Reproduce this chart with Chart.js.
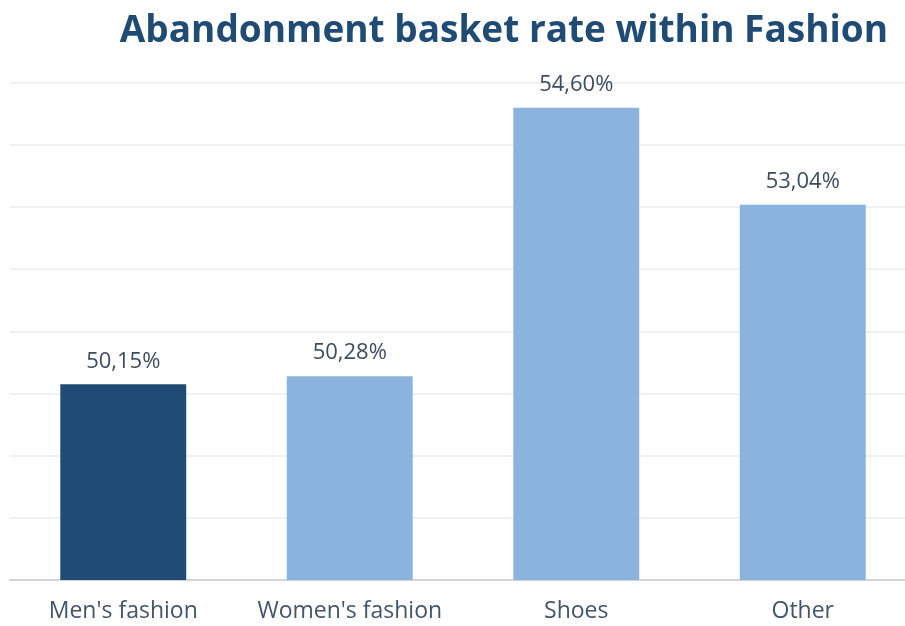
<!DOCTYPE html>
<html>
<head>
<meta charset="utf-8">
<script src="https://cdn.jsdelivr.net/npm/chart.js@4.4.1/dist/chart.umd.min.js"></script>
<style>
  html, body { margin: 0; padding: 0; background: #fff; overflow: hidden; }
  #wrap { position: relative; width: 920px; height: 626px; }
</style>
</head>
<body>
<div id="wrap"><canvas id="fashionChart" width="920" height="626"></canvas></div>
<script>
'use strict';

var chartTitle = 'Abandonment basket rate within Fashion';
var categories = ["Men's fashion", "Women's fashion", 'Shoes', 'Other'];
var abandonRate = [50.15, 50.28, 54.60, 53.04];
var barColors = ['#1f4b74', '#8ab4de', '#8ab4de', '#8ab4de'];
var axisMin = 47;
var axisMax = 55;

function pct(v) {
    return v.toFixed(2).replace('.', ',') + '%';
}

// heading, right-aligned a bit inside the plot area
var headingPlugin = {
    id: 'heading',
    afterDraw: function (chart) {
        var ctx = chart.ctx;
        ctx.save();
        ctx.font = 'bold 37px "Open Sans", sans-serif';
        ctx.fillStyle = '#1f4b74';
        ctx.textAlign = 'right';
        ctx.textBaseline = 'middle';
        ctx.fillText(chartTitle, chart.chartArea.right - 28, 31);
        ctx.restore();
    }
};

// value above each bar
var valueLabels = {
    id: 'valueLabels',
    afterDatasetsDraw: function (chart) {
        var ctx = chart.ctx;
        var meta = chart.getDatasetMeta(0);
        ctx.save();
        ctx.font = '22px "Open Sans", sans-serif';
        ctx.fillStyle = '#3e4d5e';
        ctx.textAlign = 'center';
        ctx.textBaseline = 'bottom';
        meta.data.forEach(function (bar, i) {
            ctx.fillText(pct(abandonRate[i]), bar.x, bar.y - 12);
        });
        ctx.restore();
    }
};

var fashionChart = new Chart(document.getElementById('fashionChart'), {
    type: 'bar',
    data: {
        labels: categories,
        datasets: [{
            label: chartTitle,
            data: abandonRate,
            backgroundColor: barColors,
            borderWidth: 0,
            barPercentage: 0.556,
            categoryPercentage: 1
        }]
    },
    options: {
        responsive: false,
        animation: false,
        devicePixelRatio: 1,
        layout: { padding: { top: 83, left: 10, right: 4, bottom: 0 } },
        plugins: {
            legend: { display: false },
            tooltip: { enabled: false }
        },
        scales: {
            x: {
                grid: { display: false, drawTicks: false },
                border: { color: '#d4d4d4', width: 2 },
                ticks: {
                    color: '#44546a',
                    padding: 18,
                    font: { family: '"Open Sans", sans-serif', size: 23 }
                },
                afterFit: function (scale) {
                    scale.height = 46;
                }
            },
            y: {
                min: axisMin,
                max: axisMax,
                ticks: { display: false, stepSize: 1 },
                grid: { color: '#f1f1f1', lineWidth: 2, drawTicks: false },
                border: { display: false }
            }
        }
    },
    plugins: [headingPlugin, valueLabels]
});
</script>
</body>
</html>
